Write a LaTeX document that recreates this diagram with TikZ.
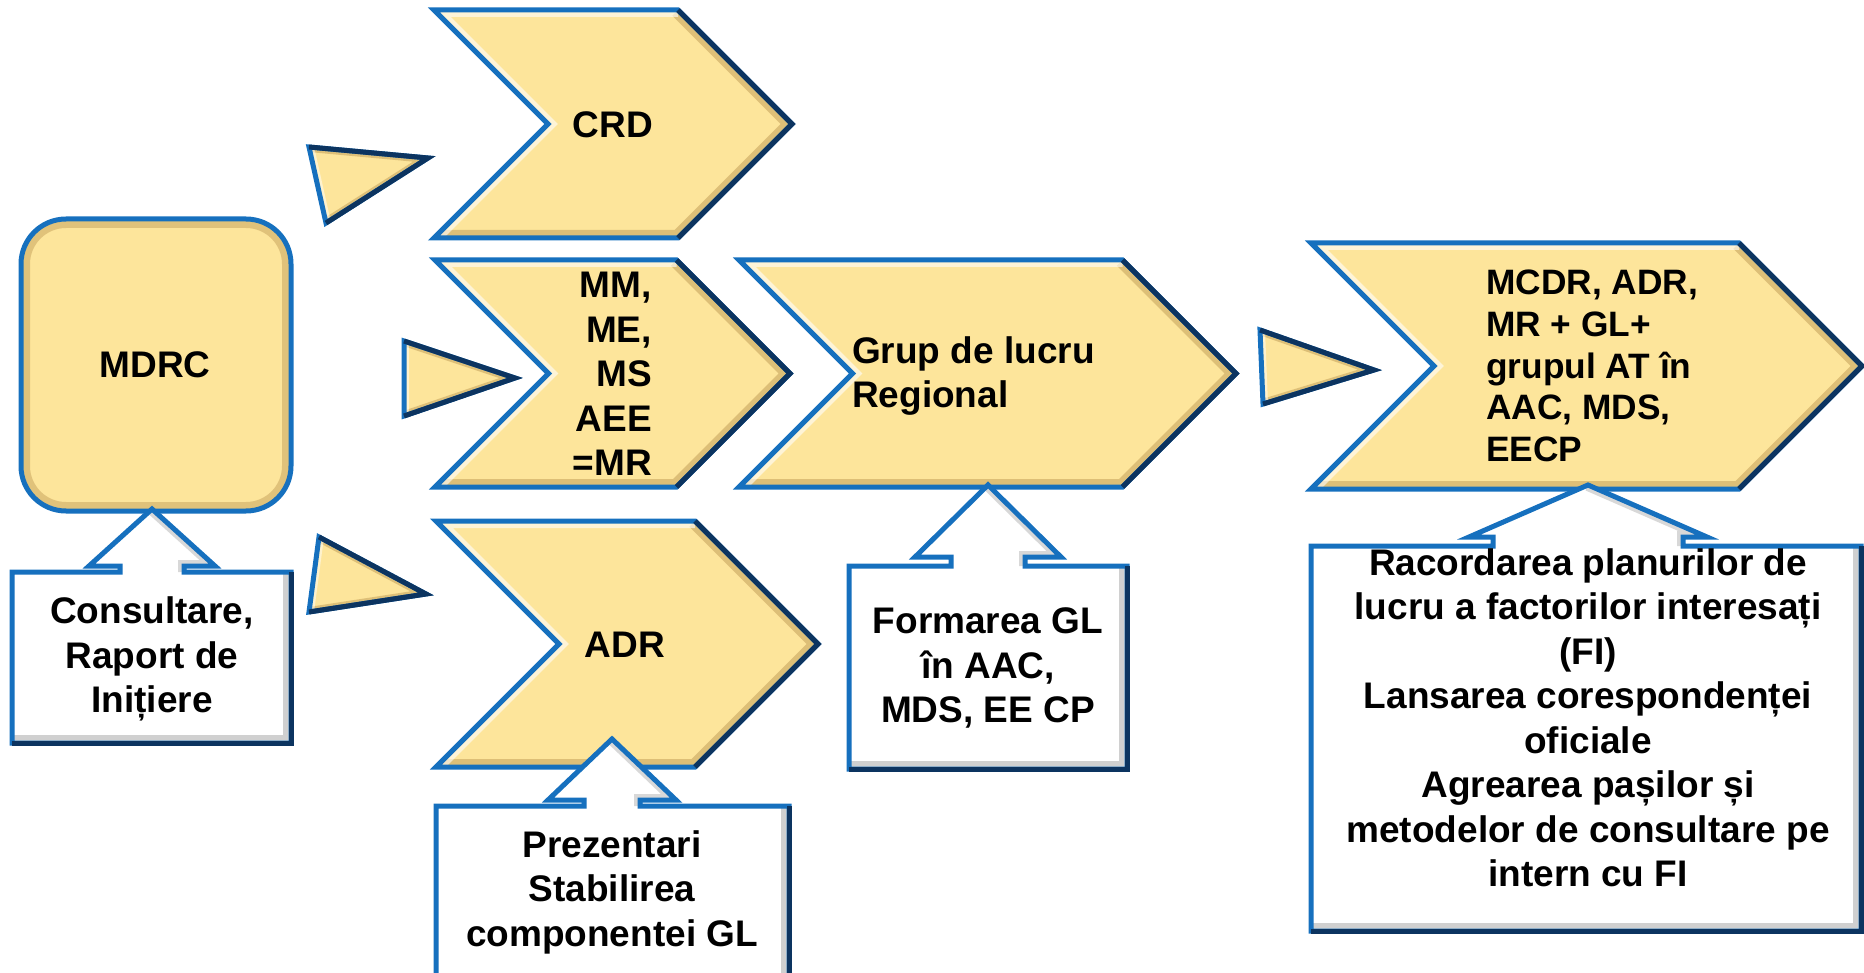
\documentclass[tikz,border=0pt]{standalone}
\usepackage{fontspec}
\setmainfont{Liberation Sans}
\definecolor{gold}{RGB}{253,229,155}
\definecolor{bblue}{RGB}{22,112,190}
\definecolor{navy}{RGB}{12,52,96}
\definecolor{tan}{RGB}{196,160,90}
\newcommand\drawchev[4]{%
  \pgfmathsetmacro\chH{(#3-#2)/2}%
  \pgfmathsetmacro\chM{(#3+#2)/2}%
  \pgfmathsetmacro\chA{#4-\chH}%
  \pgfmathsetmacro\chB{#1+\chH}%
  \fill[gold] (#1,#2) -- (\chA,#2) -- (#4,\chM) -- (\chA,#3) -- (#1,#3) -- (\chB,\chM) -- cycle;
  \begin{scope}
    \clip (#1,#2) -- (\chA,#2) -- (#4,\chM) -- (\chA,#3) -- (#1,#3) -- (\chB,\chM) -- cycle;
    \draw[tan,opacity=0.55,line width=16pt] (\chA,#2) -- (#4,\chM) -- (\chA,#3) -- (#1,#3);
    \draw[white,opacity=0.6,line width=14pt] (#1,#3) -- (\chB,\chM) -- (#1,#2) -- (\chA,#2);
  \end{scope}
  \draw[bblue,line width=5pt,line join=miter] (#1,#2) -- (\chA,#2) -- (#4,\chM) -- (\chA,#3) -- (#1,#3) -- (\chB,\chM) -- cycle;
  \draw[navy,line width=5pt,line join=miter] (\chA,#2) -- (#4,\chM) -- (\chA,#3);
}
\newcommand\drawcall[9]{%
  \fill[white] (#1,#4) -- (#3,#4) -- (#3,#2) -- ({#5+#9},#2) -- ({#5+#9},#7) -- ({#5+#8},#7) -- (#5,#6) -- ({#5-#8},#7) -- ({#5-#9},#7) -- ({#5-#9},#2) -- (#1,#2) -- cycle;
  \begin{scope}
    \clip (#1,#4) -- (#3,#4) -- (#3,#2) -- ({#5+#9},#2) -- ({#5+#9},#7) -- ({#5+#8},#7) -- (#5,#6) -- ({#5-#8},#7) -- ({#5-#9},#7) -- ({#5-#9},#2) -- (#1,#2) -- cycle;
    \draw[black!30,opacity=0.6,line width=16pt] (#1,#4) -- (#3,#4) -- (#3,#2);
    \draw[black!25,opacity=0.6,line width=12pt] ({#5+#9},#2) -- ({#5+#9},#7) -- ({#5+#8},#7) -- (#5,#6);
  \end{scope}
  \draw[bblue,line width=5pt,line join=miter] (#1,#4) -- (#3,#4) -- (#3,#2) -- ({#5+#9},#2) -- ({#5+#9},#7) -- ({#5+#8},#7) -- (#5,#6) -- ({#5-#8},#7) -- ({#5-#9},#7) -- ({#5-#9},#2) -- (#1,#2) -- cycle;
  \draw[navy,line width=5pt] (#1,#4) -- (#3,#4) -- (#3,#2);
}
\newcommand\drawtri[3]{%
  \fill[gold] #1 -- #2 -- #3 -- cycle;
  \begin{scope}
    \clip #1 -- #2 -- #3 -- cycle;
    \draw[tan,opacity=0.55,line width=10pt] #1 -- #2 -- #3;
    \draw[white,opacity=0.5,line width=10pt] #3 -- #1;
  \end{scope}
  \draw[bblue,line width=5pt,line join=miter] #1 -- #2 -- #3 -- cycle;
  \draw[navy,line width=5pt,line join=miter] #1 -- #2 -- #3;
}
\begin{document}
\begin{tikzpicture}[x=1pt,y=-1pt,
  txt/.style={font=\fontsize{37}{44.5}\selectfont\bfseries, inner sep=0pt, align=center}]
\useasboundingbox (0,0) rectangle (1864,973);
% rounded box MDRC
\fill[gold] (21,219) [rounded corners=45pt] rectangle (291,511);
\begin{scope}
  \clip[rounded corners=45pt] (21,219) rectangle (291,511);
  \draw[tan,opacity=0.5,line width=18pt,rounded corners=45pt] (21,219) rectangle (291,511);
\end{scope}
\draw[bblue,line width=5pt,rounded corners=45pt] (21,219) rectangle (291,511);
% chevrons
\drawchev{434}{10}{238}{792}
\drawchev{435}{260}{487}{790}
\drawchev{739}{260}{487}{1236}
\drawchev{436}{521}{767}{818}
\drawchev{1311}{243}{489}{1862}
% triangles
\drawtri{(309,147)}{(428,158)}{(326,223)}
\drawtri{(404,341)}{(515,378)}{(404,416)}
\drawtri{(319,537)}{(426,594)}{(309,612)}
\drawtri{(1260,330)}{(1374,370)}{(1263,404)}
% callouts
\drawcall{12}{572}{291}{743}{152}{509}{566}{63}{32}
\drawcall{849}{566}{1127}{769}{988}{485}{557}{73}{37}
\drawcall{436}{806}{789}{990}{612}{739}{800}{64}{28}
\drawcall{1311}{546}{1861}{931}{1588}{485}{537}{119}{95}
% texts
\node[txt] (mdrc) at (155,365) {MDRC};
\node[txt] (crd) at (613,125) {CRD};
\node[txt, align=right, anchor=east] (mm) at (652,374) {MM,\\ME,\\MS\\AEE\\=MR};
\node[txt, align=left, anchor=west] (grup) at (852,376) {Grup de lucru\\Regional};
\node[txt] (adr) at (625,645) {ADR};
\node[txt, align=left, anchor=west, font=\fontsize{35.3}{41.6}\selectfont\bfseries] (mcdr) at (1486,366) {MCDR, ADR,\\MR + GL+\\grupul AT în\\AAC, MDS,\\EECP};
\node[txt] (cons) at (152,659) {Consultare,\\Raport de\\Inițiere};
\node[txt] (form) at (988,668) {Formarea GL\\în AAC,\\MDS, EE CP};
\node[txt] (prez) at (612,892) {Prezentari\\Stabilirea\\componentei GL};
\node[txt] (rac) at (1588,718) {Racordarea planurilor de\\lucru a factorilor interesați\\(FI)\\Lansarea corespondenței\\oficiale\\Agrearea pașilor și\\metodelor de consultare pe\\intern cu FI};
\end{tikzpicture}
\end{document}
